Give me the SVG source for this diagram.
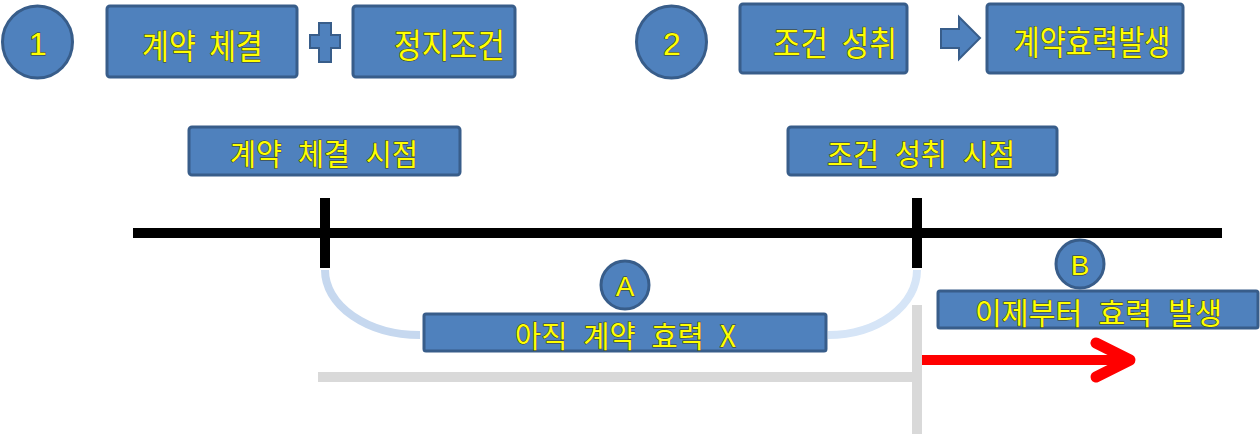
<svg xmlns="http://www.w3.org/2000/svg" width="1260" height="434" viewBox="0 0 1260 434">
<style>
.box{fill:#4f81bd;stroke:#385d8a;stroke-width:3}
.t{font-family:"Noto Sans CJK KR","Liberation Sans",sans-serif;fill:#ffff00;stroke:#3a3a10;stroke-width:1;paint-order:stroke;text-anchor:middle;dominant-baseline:central}
.big{font-size:34px;word-spacing:8px}
.mid{font-size:30px;word-spacing:10px}
.num{font-family:"Liberation Sans",sans-serif}
.tl{stroke:#000;stroke-width:10;fill:none}
.gray{stroke:#d9d9d9;stroke-width:10;fill:none}
</style>
<rect width="1260" height="434" fill="#fff"/>
<g id="connectors">
  <line class="tl" x1="133" y1="233" x2="1222" y2="233"/>
  <line class="tl" x1="325" y1="198" x2="325" y2="268"/>
  <line class="tl" x1="917" y1="198" x2="917" y2="268"/>
  <path d="M 325 270 A 95 65 0 0 0 420 335" fill="none" stroke="#c6d8ef" stroke-width="8"/>
  <path d="M 917 270 A 89 65 0 0 1 828 335" fill="none" stroke="#d6e5f7" stroke-width="8"/>
  <line class="gray" x1="318" y1="377" x2="917" y2="377"/>
  <line class="gray" x1="917" y1="305" x2="917" y2="434"/>
  <line x1="922" y1="360" x2="1126" y2="360" stroke="#ff0000" stroke-width="10"/>
  <polyline points="1096,343 1130,360 1096,377" fill="none" stroke="#ff0000" stroke-width="11" stroke-linecap="round" stroke-linejoin="round"/>
</g>
<g id="n1">
  <ellipse class="box" cx="37.5" cy="42" rx="35" ry="36"/>
  <text class="t num" style="font-size:32px" x="38" y="44">1</text>
</g>
<g id="contract">
  <rect class="box" x="107" y="6" width="190" height="71" rx="3"/>
  <text class="t big" x="202.5" y="44" textLength="121" lengthAdjust="spacingAndGlyphs">계약 체결</text>
</g>
<g id="plus">
  <path class="box" style="stroke-width:2" d="M319 23 H331 V35 H340 V48 H331 V62 H319 V48 H310 V35 H319 Z"/>
</g>
<g id="condition">
  <rect class="box" x="353" y="6" width="162" height="71" rx="3"/>
  <text class="t big" x="449.5" y="43" textLength="111" lengthAdjust="spacingAndGlyphs">정지조건</text>
</g>
<g id="n2">
  <ellipse class="box" cx="671.5" cy="42" rx="35" ry="36"/>
  <text class="t num" style="font-size:32px" x="672" y="44">2</text>
</g>
<g id="fulfilled">
  <rect class="box" x="740" y="4" width="167" height="69" rx="3"/>
  <text class="t big" x="835" y="41" textLength="124" lengthAdjust="spacingAndGlyphs">조건 성취</text>
</g>
<g id="blockArrow">
  <path class="box" style="stroke-width:2" d="M941 29 H959 V17 L980 38 L959 59 V48 H941 Z"/>
</g>
<g id="effect">
  <rect class="box" x="987" y="4" width="196" height="69" rx="3"/>
  <text class="t big" x="1092" y="40" textLength="157" lengthAdjust="spacingAndGlyphs">계약효력발생</text>
</g>
<g id="signTime">
  <rect class="box" x="189" y="127" width="271" height="48" rx="3"/>
  <text class="t mid" x="324" y="152" textLength="188" lengthAdjust="spacingAndGlyphs">계약 체결 시점</text>
</g>
<g id="fulfillTime">
  <rect class="box" x="788" y="127" width="269" height="48" rx="3"/>
  <text class="t mid" x="921" y="152" textLength="188" lengthAdjust="spacingAndGlyphs">조건 성취 시점</text>
</g>
<g id="circleA">
  <ellipse class="box" cx="625" cy="285" rx="24" ry="24"/>
  <text class="t num" style="font-size:28px" x="625" y="286">A</text>
</g>
<g id="notYet">
  <rect class="box" x="424" y="314" width="402" height="37" rx="2"/>
  <text class="t mid" x="625.5" y="334" textLength="221" lengthAdjust="spacingAndGlyphs">아직 계약 효력 X</text>
</g>
<g id="circleB">
  <ellipse class="box" cx="1080" cy="264" rx="24" ry="24"/>
  <text class="t num" style="font-size:28px" x="1080" y="265">B</text>
</g>
<g id="fromNow">
  <rect class="box" x="938" y="291" width="320" height="37" rx="2"/>
  <text class="t mid" x="1098.5" y="311" textLength="247" lengthAdjust="spacingAndGlyphs">이제부터 효력 발생</text>
</g>
</svg>
